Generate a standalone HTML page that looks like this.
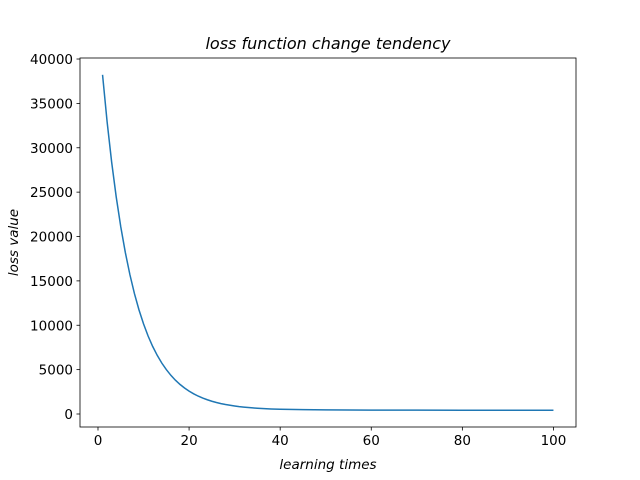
<!DOCTYPE html>
<html><head><meta charset="utf-8"><style>
html,body{margin:0;padding:0;background:#fff;}
svg{display:block;font-family:"DejaVu Sans","Liberation Sans",sans-serif;}
</style></head><body>
<svg id="chart" width="640" height="480">
<rect x="0" y="0" width="640" height="480" fill="#fff"/>
<text x="328" y="49" text-anchor="middle" font-size="16" font-style="italic">loss function change tendency</text>
<text x="328" y="469" text-anchor="middle" font-size="13.5" font-style="italic">learning times</text>
<text x="18" y="242.5" text-anchor="middle" font-size="13.5" font-style="italic" transform="rotate(-90 18 242.5)">loss value</text>
<g id="ticks"></g>
<path id="line" fill="none" stroke="#1f77b4" stroke-width="1.5"/>
<rect x="80" y="58" width="496" height="369" fill="none" stroke="#000" stroke-width="0.8"/>
</svg>
<script>
const xValues=[1,2,3,4,5,6,7,8,9,10,11,12,13,14,15,16,17,18,19,20,21,22,23,24,25,26,27,28,29,30,31,32,33,34,35,36,37,38,39,40,45,50,60,70,80,90,100];
const lossValues=[38225,32933,28382,24470,21102,18206,15719,13576,11735,10151,8790,7618,6613,5747,5003,4360,3808,3336,2927,2576,2277,2016,1793,1604,1438,1294,1173,1068,981,901,833,777,727,686,648,618,591,569,546,531,495,465,440,432,428,426,425];
const xTicks=[0,20,40,60,80,100];
const yTicks=[0,5000,10000,15000,20000,25000,30000,35000,40000];
const L=80,R=576,T=58,B=427;
const xmin=Math.min(...xValues),xmax=Math.max(...xValues),ymin=Math.min(...lossValues),ymax=Math.max(...lossValues);
const xm=(xmax-xmin)*0.05,ym=(ymax-ymin)*0.05;
const sx=v=>L+(v-(xmin-xm))/((xmax+xm)-(xmin-xm))*(R-L);
const sy=v=>B-(v-(ymin-ym))/((ymax+ym)-(ymin-ym))*(B-T);
const NS="http://www.w3.org/2000/svg";
const g=document.getElementById('ticks');
xTicks.forEach(t=>{
 const l=document.createElementNS(NS,'line');
 l.setAttribute('x1',sx(t));l.setAttribute('x2',sx(t));l.setAttribute('y1',B);l.setAttribute('y2',B+3.5);
 l.setAttribute('stroke','#000');l.setAttribute('stroke-width','0.8');
 
 
 g.appendChild(l);
 const tx=document.createElementNS(NS,'text');
 tx.setAttribute('x',sx(t));tx.setAttribute('y',B+18);tx.setAttribute('text-anchor','middle');tx.setAttribute('font-size','13.5');
 tx.textContent=t;
 
 
 g.appendChild(tx);
});
yTicks.forEach(t=>{
 const l=document.createElementNS(NS,'line');
 l.setAttribute('x1',L-3.5);l.setAttribute('x2',L);l.setAttribute('y1',sy(t));l.setAttribute('y2',sy(t));
 l.setAttribute('stroke','#000');l.setAttribute('stroke-width','0.8');
 
 
 g.appendChild(l);
 const tx=document.createElementNS(NS,'text');
 tx.setAttribute('x',L-7);tx.setAttribute('y',sy(t)+5);tx.setAttribute('text-anchor','end');tx.setAttribute('font-size','13.5');
 tx.textContent=t;
 
 
 g.appendChild(tx);
});
document.getElementById('line').setAttribute('d',xValues.map((x,i)=>(i?'L':'M')+sx(x).toFixed(2)+' '+sy(lossValues[i]).toFixed(2)).join(' '));
</script>
</body></html>
